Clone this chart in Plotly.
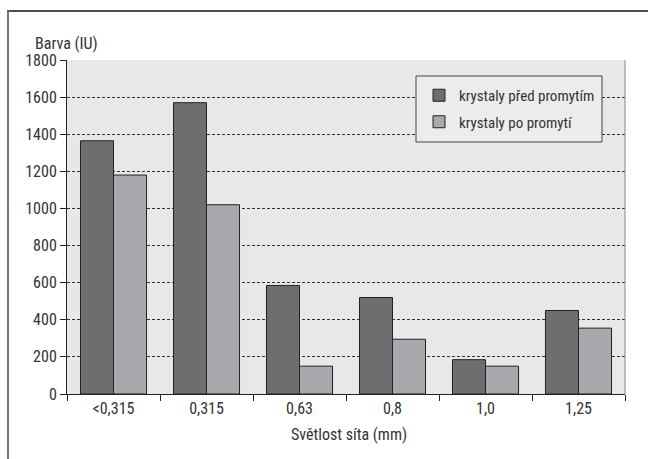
import plotly.graph_objects as go

categories = ["<0,315", "0,315", "0,63", "0,8", "1,0", "1,25"]
pred = [1365, 1570, 585, 520, 185, 450]
po = [1180, 1020, 150, 295, 150, 355]
series_names = ["krystaly před promytím", "krystaly po promytí"]
y_ticks = [0, 200, 400, 600, 800, 1000, 1200, 1400, 1600, 1800]

W, H = 648, 459
L, R, T, B = 67, 625, 60, 394

def px(x):
    return (x - L) / (R - L)

def py(y):
    return (B - y) / (B - T)

FONT = "Roboto Condensed, Arial Narrow, Liberation Sans, Arial, sans-serif"
FS = 16
TXT = "#333333"
FW = 400

def f(size=FS):
    return dict(family=FONT, size=size, color=TXT, weight=FW)

fig = go.Figure()
fig.add_trace(go.Bar(x=categories, y=pred, name=series_names[0], legendgroup="a",
                     marker=dict(color="#6e6e70", line=dict(color="#222222", width=1))))
fig.add_trace(go.Bar(x=categories, y=po, name=series_names[1], legendgroup="b",
                     marker=dict(color="#a8a9ac", line=dict(color="#222222", width=1))))

fig.update_layout(
    width=W, height=H,
    margin=dict(l=L, r=W - R, t=T, b=H - B),
    paper_bgcolor="white",
    plot_bgcolor="#e8e8e8",
    barmode="group",
    bargap=0.29,
    bargroupgap=0,
    font=f(),
    legend=dict(x=px(419), y=py(79), xanchor="left", yanchor="top",
                bgcolor="rgba(0,0,0,0)", borderwidth=0,
                font=f(15), tracegroupgap=4),
    showlegend=True,
)

fig.update_yaxes(range=[0, 1800], tickvals=y_ticks, ticks="outside", ticklen=6,
                 tickcolor="#222222", showline=True, linecolor="#222222", linewidth=1,
                 showgrid=True, gridcolor="#333333", gridwidth=1, griddash="3px,2px",
                 zeroline=False, tickfont=f())
fig.update_xaxes(ticks="outside", tickson="boundaries", ticklen=6, tickcolor="#222222",
                 showline=True, linecolor="#222222", linewidth=1, showgrid=False,
                 tickfont=f())

shapes = [
    dict(type="line", xref="paper", yref="paper", x0=1, x1=1, y0=0, y1=1,
         line=dict(color="#888888", width=1)),
    dict(type="rect", xref="paper", yref="paper", x0=px(416), x1=px(602), y0=py(76), y1=py(142),
         fillcolor="#ececec", line=dict(color="#444444", width=1), layer="above"),
    dict(type="line", xref="paper", yref="paper", x0=px(7), x1=px(648), y0=py(11), y1=py(11),
         line=dict(color="#111111", width=1.5)),
    dict(type="line", xref="paper", yref="paper", x0=px(8), x1=px(8), y0=py(11), y1=py(459),
         line=dict(color="#777777", width=2)),
]
fig.update_layout(shapes=shapes)

fig.add_annotation(text="Barva (IU)", xref="paper", yref="paper", x=px(33), y=py(43),
                   xanchor="left", yanchor="middle", showarrow=False, font=f())
fig.add_annotation(text="Světlost síta (mm)", xref="paper", yref="paper", x=px(349), y=py(434),
                   xanchor="center", yanchor="middle", showarrow=False, font=f())

fig.write_html("out.html")
